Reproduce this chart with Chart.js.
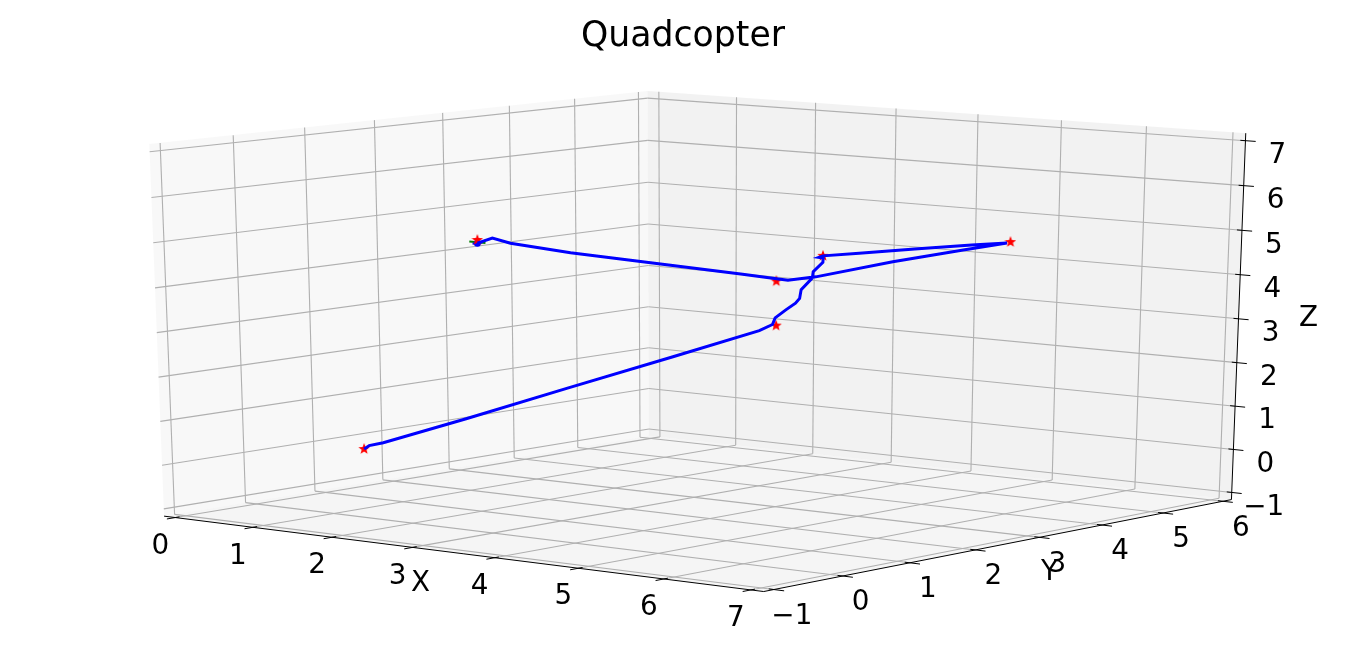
<!DOCTYPE html>
<html>
<head>
<meta charset="utf-8">
<title>Quadcopter</title>
<script src="https://cdn.jsdelivr.net/npm/chart.js@4"></script>
<style>
  html, body { margin: 0; padding: 0; background: #fff; overflow: hidden; }
  canvas { display: block; }
</style>
</head>
<body>
<canvas id="quadChart" width="1366" height="671"></canvas>
<script>
// axis ticks
const xTicks = [0, 1, 2, 3, 4, 5, 6, 7];
const yTicks = [-1, 0, 1, 2, 3, 4, 5, 6];
const zTicks = [-1, 0, 1, 2, 3, 4, 5, 6, 7];

// waypoints (stars)
const wayX = [0.6, 4, 3, 6, 4, 2];
const wayY = [0.9, 3, 5, 4, 3, 1];
const wayZ = [0, 2.98, 3.98, 4.98, 3.98, 4.98];

// flown path
const pathX = [0.6, 0.64, 0.76, 1.45, 2.3, 3.15, 3.86, 3.94, 3.83, 3.77, 3.73, 3.67, 3.5, 3.37, 3.24, 3.14, 3.05, 2.98, 3, 3.6, 4.5, 5.4, 5.96, 5.6, 5, 4.34, 4.1, 3.95, 3.76, 2.62, 2.22, 2.1, 2];
const pathY = [0.9, 0.93, 1.0, 1.43, 1.95, 2.48, 2.92, 3.02, 3.2, 3.44, 3.64, 3.78, 4.02, 4.36, 4.54, 4.82, 4.94, 4.96, 5, 4.8, 4.5, 4.2, 4, 3.8, 3.5, 3.17, 3.05, 2.95, 2.76, 1.62, 1.22, 1.1, 1];
const pathZ = [0, 0.08, 0.155, 0.74, 1.49, 2.23, 2.86, 2.99, 3.08, 3.2, 3.3, 3.37, 3.49, 3.66, 3.75, 3.89, 3.95, 3.95, 3.98, 4.18, 4.48, 4.78, 4.95, 4.78, 4.48, 4.1, 4.01, 4.06, 4.15, 4.67, 4.9, 5.02, 4.91];

// the quad itself, at the end of the path
const armGreenX = [1.9, 2.1], armGreenY = [1, 1], armGreenZ = [4.93, 4.93];
const armBlueX = [2, 2], armBlueY = [0.93, 1.07], armBlueZ = [4.91, 4.91];

// view of the 3d box
const elev = 14, azim = -51.1, dist = 9;

// projected view limits, handed to the chart's own scales
const viewX = [-0.1004, 0.0949];
const viewY = [-0.09881, 0.07507];

// --------- projection (same camera as mplot3d) ---------
const rad = Math.PI / 180;
const se = Math.sin(elev * rad), ce = Math.cos(elev * rad);
const sa = Math.sin(azim * rad), ca = Math.cos(azim * rad);
const camN = [ce * ca, ce * sa, se], camU = [-sa, ca, 0], camV = [-se * ca, -se * sa, ce];
const dot = (a, b) => a[0] * b[0] + a[1] * b[1] + a[2] * b[2];

const pad = t => (t[t.length - 1] - t[0]) / 48;
const xLo = xTicks[0] - pad(xTicks), xHi = xTicks[7] + pad(xTicks);
const yLo = yTicks[0] - pad(yTicks), yHi = yTicks[7] + pad(yTicks);
const zLo = zTicks[0] - pad(zTicks), zHi = zTicks[8] + pad(zTicks);

function project(x, y, z) {
    const q = [(x - xLo) / (xHi - xLo) - 0.5, (y - yLo) / (yHi - yLo) - 0.5, (z - zLo) / (zHi - zLo) - 0.5];
    const w = dist - dot(camN, q);
    return { x: dot(camU, q) / w, y: dot(camV, q) / w };
}
const projectAll = (xs, ys, zs) => xs.map((v, i) => project(v, ys[i], zs[i]));

const line = (pts, color, width) => ({
    data: pts.map(p => project(p[0], p[1], p[2])),
    showLine: true, borderColor: color, borderWidth: width, pointRadius: 0, fill: false
});
const pane = (pts, color) => ({
    data: pts.map(p => project(p[0], p[1], p[2])),
    showLine: true, borderWidth: 0, borderColor: color, backgroundColor: color, pointRadius: 0, fill: 'shape'
});

// filled star, Chart.js 'star' is only an outline
function starImage(size, color) {
    const cv = document.createElement('canvas');
    cv.width = cv.height = size;
    const c = cv.getContext('2d'), r = size / 2;
    c.fillStyle = color;
    c.beginPath();
    for (let i = 0; i < 10; i++) {
        const rr = i % 2 ? r * 0.42 : r, a = -Math.PI / 2 + i * Math.PI / 5;
        c[i ? 'lineTo' : 'moveTo'](r + rr * Math.cos(a), r + rr * Math.sin(a));
    }
    c.closePath();
    c.fill();
    return cv;
}

const gridColor = '#b0b0b0', axisColor = '#000';
const datasets = [];

// first dataset ends up on top
datasets.push({
    data: projectAll(pathX, pathY, pathZ),
    showLine: true, borderColor: '#0000ff', borderWidth: 3, pointRadius: 0, fill: false
});
datasets.push({
    data: projectAll(wayX, wayY, wayZ),
    showLine: false, pointStyle: starImage(12, '#ff0000'), pointRadius: 6
});
datasets.push({
    data: projectAll([armBlueX[0]], [1], [armBlueZ[0]]),
    showLine: false, pointStyle: 'circle', pointRadius: 3.5, backgroundColor: '#0000ff', borderWidth: 0
});
datasets.push({
    data: projectAll(armBlueX, armBlueY, armBlueZ),
    showLine: true, borderColor: '#0000ff', borderWidth: 2, pointRadius: 0, fill: false
});
datasets.push({
    data: projectAll(armGreenX, armGreenY, armGreenZ),
    showLine: true, borderColor: '#008000', borderWidth: 2, pointRadius: 0, fill: false
});

// axis lines + ticks
const dxT = (xTicks[7] - xTicks[0]) / 12, dyT = (yTicks[7] - yTicks[0]) / 12;
datasets.push(line([[xLo, yLo, zLo], [xHi, yLo, zLo]], axisColor, 1));
datasets.push(line([[xHi, yLo, zLo], [xHi, yHi, zLo]], axisColor, 1));
datasets.push(line([[xHi, yHi, zLo], [xHi, yHi, zHi]], axisColor, 1));
xTicks.forEach(v => datasets.push(line([[v, yLo - 0.2 * dyT, zLo], [v, yLo + 0.1 * dyT, zLo]], axisColor, 1)));
yTicks.forEach(v => datasets.push(line([[xHi + 0.2 * dxT, v, zLo], [xHi - 0.1 * dxT, v, zLo]], axisColor, 1)));
zTicks.forEach(v => datasets.push(line([[xHi + 0.2 * dxT, yHi, v], [xHi - 0.1 * dxT, yHi, v]], axisColor, 1)));

// grid on the three panes
xTicks.forEach(v => {
    datasets.push(line([[v, yLo, zLo], [v, yHi, zLo]], gridColor, 1.1));
    datasets.push(line([[v, yHi, zLo], [v, yHi, zHi]], gridColor, 1.1));
});
yTicks.forEach(v => {
    datasets.push(line([[xLo, v, zLo], [xHi, v, zLo]], gridColor, 1.1));
    datasets.push(line([[xLo, v, zLo], [xLo, v, zHi]], gridColor, 1.1));
});
zTicks.forEach(v => {
    datasets.push(line([[xLo, yLo, v], [xLo, yHi, v]], gridColor, 1.1));
    datasets.push(line([[xLo, yHi, v], [xHi, yHi, v]], gridColor, 1.1));
});

// panes
datasets.push(pane([[xLo, yLo, zLo], [xHi, yLo, zLo], [xHi, yHi, zLo], [xLo, yHi, zLo]], 'rgba(236,236,236,0.5)'));
datasets.push(pane([[xLo, yHi, zLo], [xHi, yHi, zLo], [xHi, yHi, zHi], [xLo, yHi, zHi]], 'rgba(230,230,230,0.5)'));
datasets.push(pane([[xLo, yLo, zLo], [xLo, yHi, zLo], [xLo, yHi, zHi], [xLo, yLo, zHi]], 'rgba(242,242,242,0.5)'));

// --------- tick labels, written next to the projected ticks ---------
const labelPlugin = {
    id: 'axisText',
    afterDatasetsDraw(chart) {
        const c = chart.ctx, sx = chart.scales.x, sy = chart.scales.y;
        const put = (txt, p, dx, dy) => {
            c.fillText(txt, sx.getPixelForValue(p.x) + dx, sy.getPixelForValue(p.y) + dy);
        };
        c.save();
        c.fillStyle = '#000';
        c.font = '27.8px "DejaVu Sans"';
        c.textAlign = 'center';
        c.textBaseline = 'middle';
        xTicks.forEach(v => put(String(v), project(v, yLo, zLo), -15, 29));
        yTicks.forEach(v => put(String(v).replace('-', '\u2212'), project(xHi, v, zLo), 18, 27));
        zTicks.forEach(v => put(String(v).replace('-', '\u2212'), project(xHi, yHi, v), 32, 15));
        put('X', project(3.5, yLo, zLo), -33, 31);
        put('Y', project(xHi, 2.5, zLo), 42, 29);
        put('Z', project(xHi, yHi, 3), 70, 0);
        c.restore();
    }
};

new Chart(document.getElementById('quadChart'), {
    type: 'scatter',
    data: { datasets },
    plugins: [labelPlugin],
    options: {
        responsive: false,
        animation: false,
        layout: { padding: 0 },
        plugins: {
            legend: { display: false },
            tooltip: { enabled: false },
            title: {
                display: true,
                text: 'Quadcopter',
                color: '#000',
                font: { family: '"DejaVu Sans"', size: 34.7, weight: 'normal' },
                padding: { top: 16, bottom: 11 }
            }
        },
        scales: {
            x: { type: 'linear', display: false, min: viewX[0], max: viewX[1] },
            y: { type: 'linear', display: false, min: viewY[0], max: viewY[1] }
        }
    }
});
</script>
</body>
</html>
